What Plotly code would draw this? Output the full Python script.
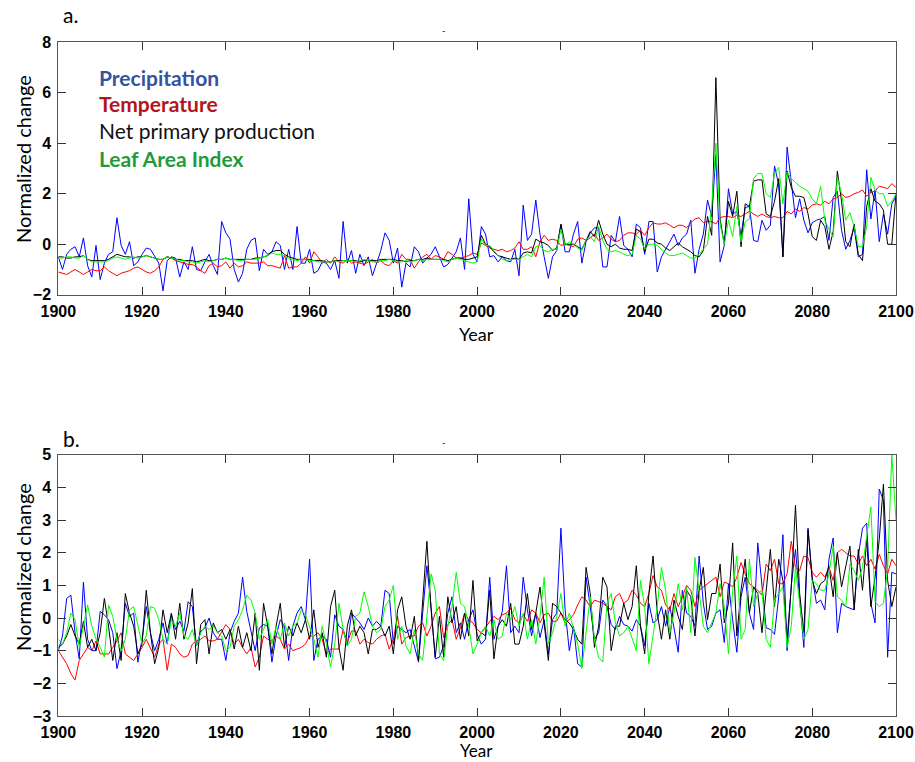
import plotly.graph_objects as go

years = list(range(1900, 2101))

# ---------------- Panel a ----------------
precip_a = [
    -0.5, -1.0, -0.4, -0.2, -0.1, -0.5, 0.25, -0.85, -1.3, -0.05,
    -1.4, -0.75, -0.4, -0.3, 1.05, -0.05, -0.4, 0.1, -0.85, -0.7,
    -0.4, -0.15, -0.2, -0.5, -0.75, -1.85, -0.65, -0.5, -0.55, -1.3,
    -0.7, -1.0, -0.1, -1.0, -1.05, -0.7, -0.4, -0.85, -1.2, 0.9,
    0.45, 0.2, -1.0, -1.5, -1.15, -0.2, 0.15, 0.25, -1.05, -0.2,
    -0.4, -0.3, 0.1, -0.05, -1.0, -0.2, -1.0, 0.7, -0.75, -0.75,
    -0.2, -1.15, -1.05, -0.7, -0.75, -1.0, -0.65, -1.35, 0.9, -0.75,
    -0.25, -1.15, -0.4, -0.85, -0.5, -1.25, -0.7, -0.25, 0.45, 0.15,
    -0.75, -0.15, -1.7, -0.75, -0.9, -0.1, -0.3, -0.75, -0.55, -0.4,
    -0.1, -0.5, -0.9, -0.8, -0.55, -0.3, 0.25, -1.0, 1.8, -0.4,
    -0.7, 0.7, 0.4, -0.5, -0.45, -0.7, -0.5, -0.65, -0.7, -0.2,
    -1.25, 1.55, 0.15, 0.4, 1.75, 0.4, -0.5, -1.35, -0.5, -0.25,
    0.75, -0.3, -0.3, 0.4, 0.9, -0.75, 0.1, 0.45, 0.65, 0.65,
    -0.9, -0.9, 0.35, 0.1, 1.1, -0.05, -0.2, -0.5, 0.8, 0.65,
    -0.4, 0.9, 0.9, -1.1, -0.5, -0.2, 0.1, 0.4, -0.05, 0.25,
    0.4, 0.95, -1.15, -0.2, 0.4, 1.75, 1.1, 3.55, -0.7, -0.05,
    2.2, 1.2, 1.3, 0.35, 1.45, 1.5, 0.15, 0.1, 0.95, 0.55,
    0.75, 3.1, 2.35, -0.5, 3.85, 2.5, 1.05, 1.8, 0.95, 0.45,
    0.85, 0.95, 1.0, 1.1, 0.15, 1.85, 2.1, 0.55, -0.2, 0.15,
    0.65, -0.5, -0.4, 2.95, 1.0, 2.15, 0.1, 1.2, 0.4, 1.6,
    1.9,
]

temp_a = [
    -1.1, -1.15, -1.2, -1.1, -1.0, -1.1, -1.2, -1.1, -1.0, -1.05,
    -1.05, -0.9, -1.05, -1.15, -1.25, -1.15, -1.1, -1.05, -0.95, -0.9,
    -1.0, -1.1, -1.15, -1.05, -0.9, -0.6, -0.5, -0.55, -0.65, -0.7,
    -0.75, -0.8, -0.8, -0.9, -1.05, -1.15, -0.85, -0.75, -0.9, -0.85,
    -0.7, -0.95, -0.75, -0.9, -0.85, -0.7, -0.75, -0.75, -0.75, -0.7,
    -0.85, -0.85, -0.9, -0.95, -0.45, -0.95, -0.9, -0.9, -0.75, -0.5,
    -0.75, -0.3, -0.5, -0.75, -0.6, -0.75, -0.5, -0.7, -0.75, -0.6,
    -0.75, -0.7, -0.75, -0.8, -0.7, -0.6, -0.75, -0.65, -0.8, -0.85,
    -0.65, -0.75, -0.4, -0.6, -0.6, -0.95, -0.7, -0.5, -0.4, -0.6,
    -0.45, -0.5, -0.6, -0.3, -0.4, -0.55, -0.55, -0.5, -0.45, -0.35,
    -0.4, 0.05, -0.05, -0.15, -0.2, -0.25, -0.2, -0.3, -0.25, -0.15,
    0.1, -0.2, -0.2, -0.1, -0.5, 0.1, 0.35, 0.15, 0.2, 0.15,
    -0.05, 0.0, -0.05, -0.1, 0.2, 0.25, 0.15, 0.25, 0.4, 0.15,
    0.25, 0.4, 0.2, 0.1, 0.15, 0.35, 0.45, 0.45, 0.4, 0.55,
    0.35, 0.65, 0.85, 0.8, 0.8, 0.85, 0.75, 0.65, 0.75, 0.75,
    0.65, 0.85, 1.0, 1.05, 0.85, 0.9, 0.9, 0.8, 1.05, 1.1,
    1.1, 1.05, 1.15, 1.1, 1.2, 1.3, 1.2, 1.1, 1.2, 1.1,
    1.05, 1.1, 1.05, 1.05, 1.3, 1.2, 1.4, 1.3, 1.45, 1.4,
    1.55, 1.6, 1.55, 1.7, 1.6, 1.8, 1.85, 2.0, 1.85, 1.9,
    2.0, 2.05, 2.15, 1.9, 2.05, 2.1, 2.3, 2.25, 2.2, 2.4,
    2.25,
]

npp_a = [
    -0.5, -0.5, -0.55, -0.55, -0.5, -0.5, -0.45, -0.6, -0.65, -0.65,
    -0.65, -0.65, -0.6, -0.5, -0.4, -0.45, -0.5, -0.5, -0.55, -0.5,
    -0.5, -0.45, -0.5, -0.55, -0.6, -0.6, -0.5, -0.55, -0.6, -0.6,
    -0.65, -0.65, -0.65, -0.7, -0.65, -0.6, -0.65, -0.65, -0.6, -0.6,
    -0.55, -0.6, -0.6, -0.6, -0.6, -0.6, -0.6, -0.55, -0.55, -0.5,
    -0.45, -0.3, -0.25, -0.25, -0.4, -0.5, -0.55, -0.6, -0.6, -0.6,
    -0.6, -0.65, -0.65, -0.65, -0.7, -0.7, -0.65, -0.65, -0.65, -0.65,
    -0.65, -0.65, -0.7, -0.65, -0.65, -0.65, -0.65, -0.6, -0.6, -0.6,
    -0.6, -0.65, -0.65, -0.7, -0.65, -0.65, -0.6, -0.6, -0.55, -0.6,
    -0.6, -0.6, -0.6, -0.65, -0.6, -0.55, -0.55, -0.6, -0.6, -0.55,
    -0.5, 0.35, 0.0, -0.1, -0.3, -0.45, -0.5, -0.55, -0.6, -0.55,
    -0.6, -0.35, -0.3, -0.35, 0.2, 0.1, 0.05, -0.05, -0.25, -0.15,
    0.8, 0.0, 0.0, 0.0, -0.1, -0.2, 0.15, 0.5, 0.3, 0.95,
    0.4, 0.0, -0.1, 0.0, -0.15, -0.2, -0.2, -0.25, 0.6, 0.5,
    -0.3, 0.2, 0.2, 0.05, 0.0, -0.15, -0.25, -0.1, 0.05, -0.1,
    -0.2, -0.3, -0.45, -0.5, -0.25, 1.1, 0.35, 6.6, 1.0, 0.0,
    1.7, 1.1, 2.1, -0.1, 1.6, 1.5, 2.5, 2.55, 2.55, 1.2,
    1.1, 1.7, 2.6, -0.5, 2.9, 2.25, 1.9, 1.9, 1.85, 1.2,
    0.3, 0.15, 0.95, 0.7, -0.2, 0.5, 2.9, 1.7, 0.1, -0.1,
    0.8, -0.4, -0.65, 1.5, 2.2, 1.7, 1.6, 1.35, 0.0, 0.0,
    2.0,
]

lai_a = [
    -0.55, -0.55, -0.5, -0.5, -0.55, -0.55, -0.45, -0.6, -0.7, -0.7,
    -0.7, -0.7, -0.65, -0.55, -0.5, -0.55, -0.6, -0.55, -0.5, -0.55,
    -0.5, -0.45, -0.5, -0.55, -0.6, -0.6, -0.5, -0.55, -0.6, -0.65,
    -0.65, -0.7, -0.7, -0.75, -0.7, -0.65, -0.7, -0.65, -0.6, -0.6,
    -0.55, -0.6, -0.6, -0.65, -0.65, -0.6, -0.6, -0.6, -0.55, -0.5,
    -0.45, -0.35, -0.4, -0.4, -0.45, -0.55, -0.6, -0.65, -0.6, -0.6,
    -0.65, -0.65, -0.7, -0.7, -0.7, -0.7, -0.65, -0.7, -0.65, -0.65,
    -0.65, -0.7, -0.65, -0.6, -0.65, -0.7, -0.7, -0.65, -0.65, -0.6,
    -0.65, -0.7, -0.7, -0.65, -0.7, -0.65, -0.6, -0.65, -0.6, -0.6,
    -0.6, -0.6, -0.65, -0.7, -0.6, -0.55, -0.6, -0.65, -0.7, -0.75,
    -0.7, 0.2, -0.05, -0.05, -0.25, -0.45, -0.6, -0.65, -0.6, -0.6,
    -0.6, -0.5, -0.4, -0.5, -0.1, -0.05, -0.25, -0.3, -0.2, -0.2,
    0.6, -0.05, 0.1, 0.0, -0.15, -0.25, 0.2, 0.3, 0.1, 0.7,
    0.15, -0.2, -0.3, -0.25, -0.3, -0.4, -0.45, -0.4, 0.35, 0.2,
    -0.2, 0.0, 0.0, -0.05, -0.2, -0.35, -0.45, -0.45, -0.4, -0.35,
    -0.45, -0.55, -0.55, -0.4, -0.2, 0.0, 1.5, 4.0, 0.8, 0.0,
    0.95, 0.3, 1.5, 0.1, 0.9, 1.0, 2.6, 2.8, 2.8, 2.0,
    1.85, 2.8, 3.05, 1.6, 2.85, 2.6, 2.45, 2.3, 2.2, 2.1,
    1.8, 1.6, 2.3, 0.95, 0.6, 0.3, 2.65, 2.0, 0.95, 1.25,
    0.7, -0.1, -0.1, 0.7, 2.65, 2.15, 2.0, 2.0, 1.5, 1.7,
    2.0,
]

# ---------------- Panel b ----------------
precip_b = [
    -1.0, -0.55, 0.6, 0.7, -0.45, -1.25, 1.1, -0.65, -1.0, -1.0,
    0.2, 0.1, -0.05, -0.45, -1.55, -1.0, 0.45, 0.05, 0.15, -1.35,
    -0.65, 0.35, -0.45, -1.0, -0.65, -0.15, -0.8, 0.1, -0.35, -0.1,
    -0.4, 0.5, 0.35, -0.85, -0.4, -0.3, 0.0, -0.45, -0.65, -0.65,
    -1.3, -0.45, -0.1, 0.15, 1.25, 0.2, -0.4, -1.0, -0.3, -0.2,
    -0.25, -1.35, -0.55, -0.05, -0.25, -1.3, -0.25, 0.15, 0.35, -0.05,
    1.8, -1.3, -0.65, -0.55, -0.65, -1.2, 0.1, -0.25, -0.35, -0.85,
    0.15, 0.0, -0.15, -0.35, 0.0, -0.25, -0.1, -0.25, 0.85, 0.75,
    -0.8, -0.25, -0.35, -0.45, -0.35, -0.85, -1.35, 0.15, 1.6, 0.35,
    -1.25, -1.2, -0.85, 0.15, 0.65, -0.45, -0.15, -0.65, -0.05, 0.25,
    -0.5, -0.8, -0.65, 1.25, -0.65, -0.25, 0.2, 1.6, -0.45, -0.25,
    -0.45, 1.25, 0.25, -0.55, 0.15, -0.6, -0.05, -1.1, -0.05, 0.15,
    2.75, 0.25, -1.0, -0.25, -1.4, -1.5, 1.25, 0.35, -0.65, -0.45,
    0.55, 0.35, -0.2, -0.35, 0.05, -0.2, -0.25, -0.4, -0.05, -0.25,
    -0.85, 0.45, -0.15, -0.05, 0.35, -0.25, 0.35, -0.3, -1.05, 0.85,
    0.15, 0.05, -0.25, 1.9, 0.45, -0.35, -0.25, 0.15, 0.25, -0.75,
    1.05, -0.05, -1.05, 0.65, 1.25, 0.15, -0.35, 2.3, 0.95, -0.3,
    -0.35, -0.5, 0.65, 2.55, -1.0, 1.0, 2.1, 0.6, -0.9, 2.75,
    1.25, 0.45, 0.55, 0.25, 1.8, 2.45, -0.45, 0.45, 0.35, 0.3,
    0.25, 1.9, 2.75, 2.9, 0.45, -0.15, 3.95, 3.6, -1.2, 1.4,
    1.35,
]

temp_b = [
    -1.0, -1.2, -1.4, -1.7, -1.9, -1.3, -1.1, -0.9, -1.0, -0.7,
    -1.1, -1.1, -1.1, -0.9, -0.7, -0.45, -1.1, -1.2, -1.3, -1.1,
    -0.9, -0.65, -0.95, -1.2, -0.8, -0.65, -1.6, -0.8, -0.9, -1.1,
    -1.2, -1.15, -0.8, -0.7, -0.65, -0.55, -0.7, -0.7, -0.65, -0.4,
    -0.2, -0.35, -0.8, -0.65, -0.9, -1.1, -0.9, -1.5, -1.2, -0.55,
    -0.65, -0.7, -0.55, -0.65, -0.95, -0.8, -1.0, -0.95, -0.9, -0.8,
    -0.55, -0.55, -0.45, -0.65, -1.1, -0.95, -0.95, -0.95, -0.35, -0.75,
    -0.4, -0.4, -0.8, -0.65, -0.75, -0.8, -0.65, -0.55, -0.5, -0.95,
    -0.65, 0.05, -0.8, -0.6, -0.55, -0.55, -0.25, -0.15, -0.55, -0.25,
    0.15, 0.35, -0.6, -0.2, -0.05, -0.65, -0.3, 0.15, -0.05, -0.15,
    -0.35, -0.45, -0.3, -0.1, 0.05, -0.05, 0.1, 0.15, 0.3, -0.05,
    -0.15, 0.1, -0.1, 0.25, 0.15, -0.15, 0.1, 0.15, -0.1, -0.1,
    0.15, -0.15, -0.05, 0.1, 0.4, 0.65, 0.55, 0.35, 0.55, 0.5,
    0.45, 0.35, 0.25, 0.65, 0.75, 0.45, 0.55, 0.85, 0.7, 0.45,
    0.35, 0.75, 1.3, 0.95, 0.85, 0.4, 0.25, 0.75, 0.35, 0.65,
    1.0, 0.85, 0.35, 0.85, 0.95, 1.05, 1.15, 1.25, 0.65, 1.1,
    1.05, 0.95, 1.25, 1.7, 1.35, 1.05, 0.95, 0.85, 0.7, 1.65,
    1.45, 1.8, 1.05, 1.05, 1.35, 2.35, 1.55, 1.45, 1.9, 1.85,
    1.4, 1.25, 1.4, 1.25, 1.55, 1.15, 2.0, 2.1, 2.0, 1.9,
    1.9, 1.65, 1.9, 1.6, 1.8, 1.5, 1.95, 1.6, 1.35, 1.8,
    1.6,
]

npp_b = [
    -0.9, -0.8, -0.55, -0.2, -0.55, -0.8, -0.1, -0.9, -0.65, -1.0,
    -0.45, 0.6, -0.25, -1.3, -0.45, -1.3, 0.75, 0.15, -0.25, -1.1,
    -0.8, 0.85, -0.45, -1.4, -0.9, 0.25, -0.45, 0.15, -0.65, 0.45,
    -0.65, -0.15, 0.9, -1.4, -0.2, -0.05, -1.1, -0.15, -0.45, -0.35,
    -0.65, -0.35, -0.95, -0.25, -0.9, -0.45, -1.0, 0.15, -1.6, 0.45,
    -0.25, -1.1, -0.25, 0.45, -0.9, -0.25, -0.55, -0.15, -0.45, -0.05,
    -0.65, 0.25, -0.9, -0.45, -1.2, 0.35, 0.85, -0.9, -1.6, -0.25,
    0.25, -0.55, -0.25, -0.45, -1.1, -0.35, -0.35, -0.25, -0.55, -0.25,
    -1.1, 0.25, 0.65, -0.25, -0.65, 0.05, -1.3, 0.55, 2.35, 0.25,
    -1.2, 0.05, -1.2, 0.65, -0.15, 0.35, -0.65, 0.15, -0.55, 1.15,
    -0.7, -0.45, -0.55, 0.85, -1.25, -0.25, -0.05, -0.25, 0.45, -0.8,
    -0.8, -0.25, 0.75, -0.35, 0.15, 0.95, -0.15, -1.3, 0.45, 0.35,
    0.15, -0.05, -0.15, -0.35, -0.65, -0.8, 1.55, 0.75, -0.9, -0.25,
    1.25, 0.95, -1.0, -0.25, -0.25, 0.45, -0.05, 0.35, 1.6, -0.25,
    -1.1, 0.75, 1.9, 0.15, -0.65, 0.25, -0.65, 0.55, 0.05, -0.35,
    0.85, 0.65, -0.55, 0.85, 1.55, -0.05, 0.75, 0.75, 1.65, -0.15,
    0.45, 2.3, -0.55, 0.85, 1.8, 0.15, 0.95, 0.75, -0.45, 0.85,
    2.1, 0.35, 1.8, 1.15, -0.65, 0.95, 3.45, 0.75, -0.45, 2.7,
    1.15, 0.75, 1.05, 1.15, 1.6, 0.65, 2.0, 0.95, 1.6, 2.2,
    0.25, 2.1, 0.85, 2.4, 0.35, 1.25, 2.4, 4.1, 1.15, 0.35,
    0.95,
]

lai_b = [
    -0.65, -0.8, -0.45, 0.15, -0.05, -0.9, -0.25, 0.4, -0.25, -0.65,
    -0.9, -1.2, 0.4, 0.05, -0.65, -1.0, -0.65, 0.25, 0.35, -0.2,
    -0.8, -0.55, 0.35, 0.3, -0.05, -0.65, -0.8, -0.05, -0.25, 0.15,
    -0.55, -0.65, -0.35, -0.85, -0.45, -0.25, -0.35, -0.25, -0.45, -0.55,
    -1.0, -0.9, -0.25, -0.05, 0.25, 0.7, 0.55, 0.15, -0.65, -0.35,
    -0.05, -0.8, -0.25, -0.65, -0.15, -0.55, -0.25, -0.15, 0.25, 0.1,
    -0.25, -0.65, -1.2, -0.25, -0.8, -1.5, -0.8, 0.45, -0.35, -0.85,
    -0.65, 0.05, 0.15, 0.8, 0.35, -0.25, -0.45, -0.35, 0.35, 0.55,
    1.0, -0.65, -0.25, -0.85, -1.1, -0.35, -1.1, -1.3, 0.05, 1.35,
    0.85, -1.1, -1.3, -0.25, 0.35, 1.4, 0.45, 0.35, -0.25, -1.1,
    -0.8, -0.45, -0.25, -0.55, -0.05, -0.65, -0.55, 0.15, -0.05, 0.35,
    -0.25, 0.15, -0.65, -0.05, -0.8, 0.05, 1.25, -0.8, -0.45, 0.05,
    0.75, -0.25, 0.15, -0.35, -0.8, -1.55, -0.45, 0.65, -0.65, -1.2,
    -1.35, 0.45, 0.75, -0.15, -0.55, -0.45, -0.25, -0.65, -1.0, 1.15,
    0.35, -1.4, -0.55, 0.35, 1.55, 0.85, -0.45, 0.15, 1.05, 0.25,
    0.95, -0.45, 1.85, 0.85, -0.25, -0.45, -0.15, 0.15, 1.05, 0.35,
    -1.1, 0.85, 1.9, -0.65, -0.35, 1.8, 0.35, 0.75, 0.85, -0.65,
    -0.9, 0.55, 0.75, 0.95, -0.9, -0.25, 1.55, 0.35, -0.65, -0.35,
    1.15, 1.05, 0.85, 0.85, 1.35, 2.2, 0.65, 0.55, 0.35, 1.65,
    1.45, 1.15, 1.55, 2.5, 3.4, 0.5, 0.35, 0.45, 1.5, 5.0,
    3.0,
]

series_names = ["Precipitation", "Temperature", "Net primary production", "Leaf Area Index"]
line_colors = ["#0000ff", "#ff0000", "#000000", "#00ff00"]
label_colors = ["#3552a3", "#b3141c", "#111111", "#1e9c3c"]
label_bold = [True, True, False, True]

x_ticks = [1900, 1920, 1940, 1960, 1980, 2000, 2020, 2040, 2060, 2080, 2100]
y_ticks_a = [-2, 0, 2, 4, 6, 8]
y_ticks_b = [-3, -2, -1, 0, 1, 2, 3, 4, 5]

W, H = 915, 762
XL, XR = 58.3, 896.0
A_TOP, A_BOT = 42.3, 294.7
B_TOP, B_BOT = 454.7, 716.0

fig = go.Figure()

panel_a = [precip_a, temp_a, npp_a, lai_a]
panel_b = [precip_b, temp_b, npp_b, lai_b]
for vals, name, col in zip(panel_a, series_names, line_colors):
    fig.add_trace(go.Scatter(x=years, y=vals, mode="lines", name=name,
                             line=dict(color=col, width=1), xaxis="x", yaxis="y"))
for vals, name, col in zip(panel_b, series_names, line_colors):
    fig.add_trace(go.Scatter(x=years, y=vals, mode="lines", name=name,
                             line=dict(color=col, width=1), xaxis="x2", yaxis="y2"))

tickfont = dict(family="Liberation Sans", size=16, color="black", weight="bold")
common = dict(showline=True, linecolor="#555555", linewidth=1, mirror="allticks",
              ticks="inside", ticklen=8, tickwidth=1, tickcolor="#333333",
              showgrid=False, zeroline=False, tickfont=tickfont, automargin=False)

fig.update_layout(
    template="none",
    width=W, height=H, margin=dict(l=0, r=0, t=0, b=0, pad=0, autoexpand=False),
    paper_bgcolor="white", plot_bgcolor="white", showlegend=False,
    xaxis=dict(domain=[XL / W, XR / W], range=[1900, 2100], tickvals=x_ticks,
               anchor="y", ticklabelstandoff=2, **common),
    yaxis=dict(domain=[1 - A_BOT / H, 1 - A_TOP / H], range=[-2, 8], tickvals=y_ticks_a,
               anchor="x", ticklabelstandoff=3, **common),
    xaxis2=dict(domain=[XL / W, XR / W], range=[1900, 2100], tickvals=x_ticks,
                anchor="y2", ticklabelstandoff=2, **common),
    yaxis2=dict(domain=[1 - B_BOT / H, 1 - B_TOP / H], range=[-3, 5], tickvals=y_ticks_b,
                anchor="x2", ticklabelstandoff=3, **common),
)

ann = []
def add_text(text, px, py, size, color="black", bold=False, angle=0, xanchor="center", family="Lato"):
    ann.append(dict(text=text, x=px / W, y=1 - py / H, xref="paper", yref="paper",
                    xanchor=xanchor, yanchor="middle", showarrow=False, textangle=angle,
                    font=dict(family=family, size=size, color=color,
                              weight="bold" if bold else "normal")))

# panel labels
add_text("a.", 70, 15, 21)
add_text("b.", 71, 438, 21)
add_text("-", 443, 31, 9)
add_text("-", 443, 442, 9)
# axis titles
add_text("Normalized change", 23, 159, 20, angle=-90)
add_text("Normalized change", 23, 567, 20, angle=-90)
add_text("Year", 476, 334, 18)
add_text("Year", 476, 750, 17)
# legend text
legend_y = [77, 103, 130, 159]
for name, col, b, ly in zip(series_names, label_colors, label_bold, legend_y):
    add_text(name, 97, ly, 21, color=col, bold=b, xanchor="left")

fig.update_layout(annotations=ann)
# place the figure flush with the window's top-left corner (no default body margin)
fig.write_html("out.html",
               config={"displayModeBar": False},
               post_script="document.body.style.margin='0px';document.body.style.overflow='hidden';")
